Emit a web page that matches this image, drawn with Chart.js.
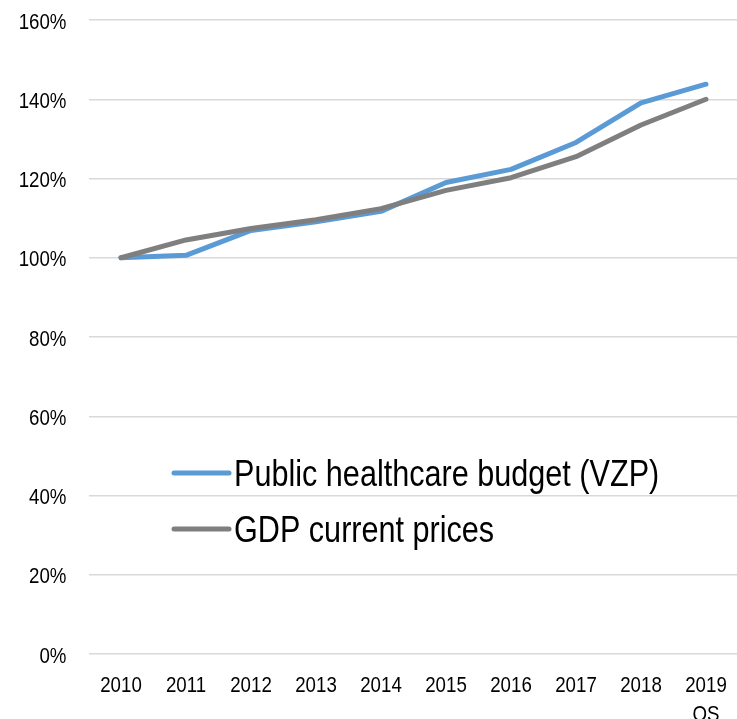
<!DOCTYPE html>
<html>
<head>
<meta charset="utf-8">
<script src="https://cdn.jsdelivr.net/npm/chart.js@4"></script>
<style>
  html, body { margin: 0; padding: 0; background: #fff; overflow: hidden; }
  canvas { display: block; }
</style>
</head>
<body>
<canvas id="grafico" width="740" height="719"></canvas>
<script>
// Dados (índice, 2010 = 100%)
var anos = ['2010', '2011', '2012', '2013', '2014', '2015', '2016', '2017', '2018', ['2019', 'OS']];
var orcamentoSaude = [100, 100.6, 106.9, 109.1, 111.7, 119.0, 122.3, 129.1, 139.1, 143.8];
var pibPrecosCorrentes = [100, 104.5, 107.4, 109.6, 112.4, 117.0, 120.2, 125.5, 133.5, 140.0];
var nomesSeries = ['Public healthcare budget (VZP)', 'GDP current prices'];
var coresSeries = ['#5B9BD5', '#7F7F7F'];
var yTicks = [0, 20, 40, 60, 80, 100, 120, 140, 160];

var fonte = "'Liberation Sans', Arial, sans-serif";
var estreito = 0.85; // imita a fonte Arial Narrow

// Escreve texto comprimido na horizontal
function textoEstreito(ctx, texto, x, y, alinhamento) {
    ctx.save();
    ctx.translate(x, y);
    ctx.scale(estreito, 1);
    ctx.textAlign = alinhamento;
    ctx.fillText(texto, 0, 0);
    ctx.restore();
}

// Rótulos dos eixos desenhados a partir das escalas do Chart.js
var rotulosEixos = {
    id: 'rotulosEixos',
    afterDraw: function (chart) {
        var ctx = chart.ctx;
        var sx = chart.scales.x, sy = chart.scales.y;
        ctx.save();
        ctx.fillStyle = '#000';
        ctx.font = '22px ' + fonte;
        ctx.textBaseline = 'alphabetic';
        sy.ticks.forEach(function (t) {
            textoEstreito(ctx, t.value + '%', sy.right - 22, sy.getPixelForValue(t.value) + 8.5, 'right');
        });
        chart.data.labels.forEach(function (lab, i) {
            var linhas = Array.isArray(lab) ? lab : [lab];
            var x = sx.getPixelForValue(i);
            linhas.forEach(function (l, j) {
                textoEstreito(ctx, l, x, sx.top + 37.5 + j * 29, 'center');
            });
        });
        ctx.restore();
    }
};

// Legenda desenhada dentro da área do gráfico
var legendaInterna = {
    id: 'legendaInterna',
    afterDraw: function (chart) {
        var ctx = chart.ctx;
        var x0 = 174, x1 = 229, yBase = 473, passo = 56;
        ctx.save();
        ctx.font = '36px ' + fonte;
        ctx.textBaseline = 'alphabetic';
        chart.data.datasets.forEach(function (ds, i) {
            var y = yBase + i * passo;
            ctx.strokeStyle = ds.borderColor;
            ctx.lineWidth = 5;
            ctx.lineCap = 'round';
            ctx.beginPath();
            ctx.moveTo(x0, y);
            ctx.lineTo(x1, y);
            ctx.stroke();
            ctx.fillStyle = '#000';
            textoEstreito(ctx, ds.label, x1 + 5, y + 12.5, 'left');
        });
        ctx.restore();
    }
};

var ctx = document.getElementById('grafico').getContext('2d');

new Chart(ctx, {
    type: 'line',
    data: {
        labels: anos,
        datasets: [{
            label: nomesSeries[0],
            data: orcamentoSaude,
            borderColor: coresSeries[0],
            order: 1
        }, {
            label: nomesSeries[1],
            data: pibPrecosCorrentes,
            borderColor: coresSeries[1],
            order: 0
        }]
    },
    options: {
        responsive: false,
        animation: false,
        layout: { padding: { top: 20, right: 1.5, left: 0, bottom: 0 } },
        elements: {
            line: { borderWidth: 5, tension: 0, borderCapStyle: 'round', borderJoinStyle: 'round', fill: false },
            point: { radius: 0, hoverRadius: 0 }
        },
        plugins: {
            legend: { display: false },
            tooltip: { enabled: false }
        },
        scales: {
            x: {
                offset: true,
                grid: { display: false, drawTicks: false },
                border: { display: false },
                ticks: { display: false },
                afterFit: function (scale) {
                    scale.height = 65;
                    scale.paddingLeft = 0;
                    scale.paddingRight = 0;
                }
            },
            y: {
                min: 0,
                max: 160,
                afterBuildTicks: function (scale) {
                    scale.ticks = yTicks.map(function (v) { return { value: v }; });
                },
                grid: { color: '#D9D9D9', lineWidth: 1.5, drawTicks: false },
                border: { display: false },
                ticks: { display: false },
                afterFit: function (scale) {
                    scale.width = 88.5;
                    scale.paddingTop = 0;
                    scale.paddingBottom = 0;
                }
            }
        }
    },
    plugins: [rotulosEixos, legendaInterna]
});
</script>
</body>
</html>
